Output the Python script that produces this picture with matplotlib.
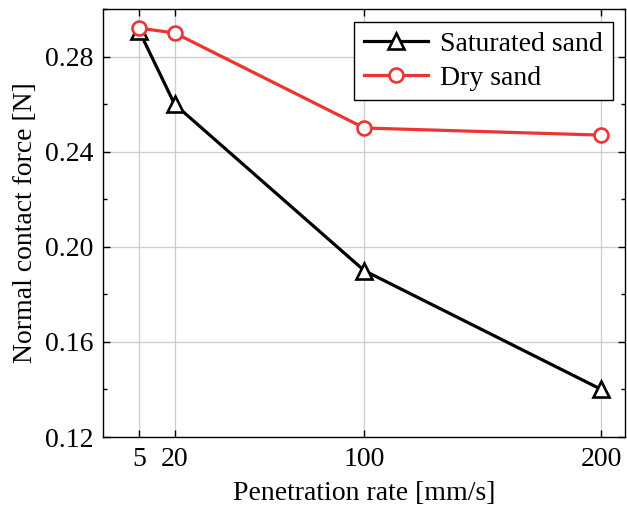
import matplotlib
matplotlib.use("Agg")
from matplotlib import pyplot as plt
from matplotlib.ticker import MultipleLocator

rate = [5, 20, 100, 200]
saturated = [0.291, 0.260, 0.190, 0.140]
dry = [0.292, 0.290, 0.250, 0.247]

plt.rcParams['font.family'] = ['Liberation Serif', 'DejaVu Serif']
plt.rcParams['mathtext.fontset'] = 'stix'

fig = plt.figure(figsize=(6.27, 5.07), dpi=100)
ax = fig.add_axes([0.165, 0.138, 0.832, 0.844])

ax.plot(rate, saturated, color="black", lw=2.3, marker="^", ms=12,
        mfc="white", mec="black", mew=1.9, label="Saturated sand", zorder=3)
ax.plot(rate, dry, color="#ee3333", lw=2.3, marker="o", ms=10,
        mfc="white", mec="#ee3333", mew=1.9, label="Dry sand", zorder=3)

ax.set_xlim(-10, 210)
ax.set_ylim(0.12, 0.30)
ax.set_xticks(rate)
ax.set_yticks([0.12, 0.16, 0.20, 0.24, 0.28])
ax.set_yticklabels(["0.12", "0.16", "0.20", "0.24", "0.28"])
ax.yaxis.set_minor_locator(MultipleLocator(0.02))
ax.tick_params(which="both", direction="in", top=True, right=True, labelsize=20)
ax.tick_params(which="major", length=5, width=1, pad=7)
ax.tick_params(which="minor", length=3, width=1)
ax.grid(True, which="major", color="#cccccc", lw=0.9)
ax.set_axisbelow(True)
for s in ax.spines.values():
    s.set_linewidth(1.0)

ax.set_xlabel("Penetration rate [mm/s]", fontsize=20, labelpad=7)
ax.set_ylabel("Normal contact force [N]", fontsize=20, labelpad=5)

leg = ax.legend(loc="upper right", fontsize=20, fancybox=False, framealpha=1,
                edgecolor="black", handlelength=2.3, borderpad=0.35,
                labelspacing=0.3, handletextpad=0.45, borderaxespad=0.45)
leg.get_frame().set_linewidth(1.0)

plt.savefig("out.png", dpi=100)
